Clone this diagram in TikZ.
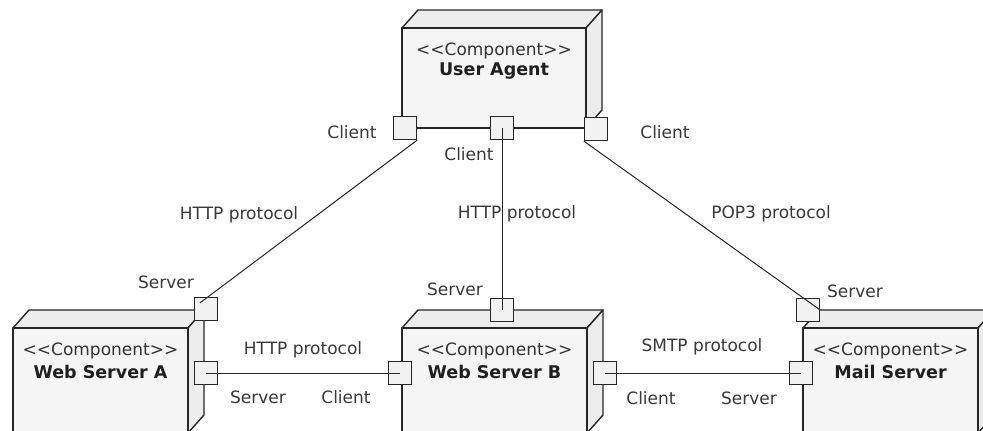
\documentclass[tikz,border=0pt]{standalone}
\usepackage{fontspec}
\newfontfamily\umlfont{DejaVu Sans}
\usetikzlibrary{calc}
\newcommand{\umltext}{\umlfont\fontsize{17}{20}\selectfont}
\newcommand{\umlbold}{\umlfont\bfseries\fontsize{17.5}{20}\selectfont}
\tikzset{
	face/.style={draw=black!85,line width=1.4pt,fill=gray!8,line join=round},
	port/.style={shape=rectangle,draw=black!85,line width=1.3pt,fill=gray!10,minimum size=23pt,inner sep=0pt},
	wire/.style={draw=black!85,line width=1pt},
	lbl/.style={font=\umltext,text=black!78,inner sep=0pt},
	cmptxt/.style={font=\umltext,text=black!80,inner sep=0pt}
}
\newcommand{\drawcomponent}[5]{
	\draw[face,fill=gray!14] #1 -- ++(16,-18) -- ++(#3,0) -- ++(-16,18) -- cycle;
	\draw[face,fill=gray!14] #1 ++(#3,0) -- ++(16,-18) -- ++(0,#4) -- ++(-16,18) -- cycle;
	\draw[face] #1 rectangle ++(#3,#4);
	\draw #1 ++(#3/2,22.5) node (#2-st) [cmptxt] {<<Component>>} ++(0,21) node (#2-nm) [cmptxt,font=\umlbold,text=black!88] {#5};
}
\begin{document}
\begin{tikzpicture}[x=1pt,y=-1pt]
\useasboundingbox (0,0) rectangle (983,431);
\drawcomponent{(402,28)}{ua}{184}{100}{User Agent}
\drawcomponent{(13,328)}{wsa}{175}{105}{Web Server A}
\drawcomponent{(402,328)}{wsb}{185}{105}{Web Server B}
\drawcomponent{(803,328)}{mail}{175}{105}{Mail Server}
% ports
\draw (405,128) node (uaL) [port] {};
\draw (502,128) node (uaM) [port] {};
\draw (596,129) node (uaR) [port] {};
\draw (206,309) node (aT) [port] {};
\draw (206,373) node (aR) [port] {};
\draw (502,310) node (bT) [port] {};
\draw (400,373) node (bL) [port] {};
\draw (605,373) node (bR) [port] {};
\draw (808,310) node (mT) [port] {};
\draw (801,373) node (mL) [port] {};
% connectors
\draw[wire] (uaL.south east) -- ($(aT.north west)!0.5!(aT.center)$);
\draw[wire] (uaM.center) -- (bT.center);
\draw[wire] (uaR.south west) -- (mT.east);
\draw[wire] (aR.center) -- (bL.center);
\draw[wire] (bR.center) -- (mL.center);
% port and protocol labels
\foreach \x/\y/\t [count=\i] in {352/132/Client, 469/154/Client, 665/132/Client,
	239/215/HTTP protocol, 517/214/HTTP protocol, 771/214/POP3 protocol,
	166/282/Server, 455/289/Server, 855/291/Server,
	303/350/HTTP protocol, 258/397/Server, 346/397/Client,
	702/347/SMTP protocol, 651/398/Client, 749/398/Server}
	\draw (\x,\y) node (lbl\i) [lbl] {\t};
\end{tikzpicture}
\end{document}
